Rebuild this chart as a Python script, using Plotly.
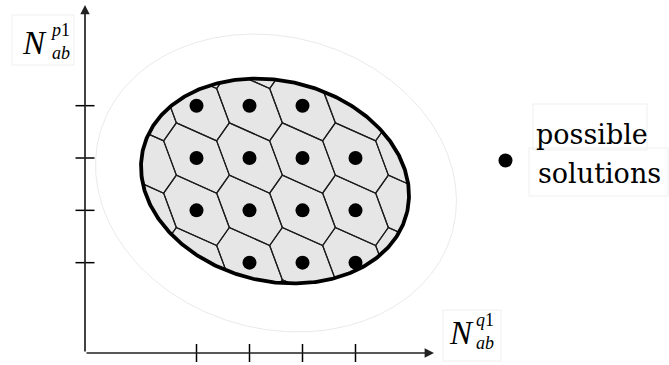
import numpy as np
import plotly.graph_objects as go

# ---- data -------------------------------------------------------------
# integer pairs (N_ab^q1, N_ab^p1) lying inside the feasible region
sol_q1 = [1, 2, 3, 1, 2, 3, 4, 1, 2, 3, 4, 2, 3, 4]
sol_p1 = [4, 4, 4, 3, 3, 3, 3, 2, 2, 2, 2, 1, 1, 1]
x_ticks = [1, 2, 3, 4]
y_ticks = [1, 2, 3, 4]
legend_lines = ["possible", "solutions"]

# ---- canvas / scale ---------------------------------------------------
W, H = 669, 365
X0_PX, SX = 143.5, 53.0     # pixel column of q1 = 0, pixels per unit
Y0_PX, SY = 315.0, 52.33    # pixel row of p1 = 0, pixels per unit


def dx(px):
    return (np.asarray(px, dtype=float) - X0_PX) / SX


def dy(py):
    return (Y0_PX - np.asarray(py, dtype=float)) / SY


def ellipse(cx, cy, a, b, deg, n=480):
    """Rotated ellipse given in screen units, returned in data units."""
    t = np.linspace(0, 2 * np.pi, n)
    f = np.radians(deg)
    px = cx + a * np.cos(t) * np.cos(f) - b * np.sin(t) * np.sin(f)
    py = cy + a * np.cos(t) * np.sin(f) + b * np.sin(t) * np.cos(f)
    return dx(px), dy(py)


outer_x, outer_y = ellipse(276, 183, 183.0, 145.8, 16.0)
inner_x, inner_y = ellipse(275, 181, 135.7, 100.2, 13.5)

# ---- Voronoi cells of the integer lattice under a skewed metric ---------
M = np.array([[1.241, 0.453], [0.453, 1.0]])


def clip_halfplane(poly, a, c):
    out = []
    n = len(poly)
    for k in range(n):
        P, Q = poly[k], poly[(k + 1) % n]
        fp, fq = a @ P - c, a @ Q - c
        if fp <= 0:
            out.append(P)
        if fp * fq < 0:
            t = fp / (fp - fq)
            out.append(P + t * (Q - P))
    return out


ell_pts = np.column_stack([inner_x, inner_y])
ell_center = ell_pts[:-1].mean(axis=0)

cell_x, cell_y = [], []
for i in range(-2, 8):
    for j in range(-2, 8):
        p = np.array([i, j], dtype=float)
        poly = [p + np.array(v) for v in [(-2, -2), (2, -2), (2, 2), (-2, 2)]]
        for di in range(-2, 3):
            for dj in range(-2, 3):
                if di == 0 and dj == 0:
                    continue
                q = p + np.array([di, dj])
                poly = clip_halfplane(poly, 2 * M @ (q - p), q @ M @ q - p @ M @ p)
        for k in range(len(ell_pts) - 1):
            if not poly:
                break
            e0, e1 = ell_pts[k], ell_pts[k + 1]
            d = e1 - e0
            nrm = np.array([d[1], -d[0]])
            c = nrm @ e0
            if nrm @ ell_center > c:
                nrm, c = -nrm, -c
            poly = clip_halfplane(poly, nrm, c)
        if len(poly) >= 3:
            pts = poly + [poly[0]]
            cell_x += [pt[0] for pt in pts] + [None]
            cell_y += [pt[1] for pt in pts] + [None]

# ---- axes geometry -----------------------------------------------------
ox, oy = float(dx(85)), float(dy(353))
x_tip, y_tip = float(dx(434)), float(dy(5))
tick_hx, tick_hy = 9.5 / SX, 9.0 / SY

tx, ty = [], []
for v in x_ticks:
    tx += [v, v, None]
    ty += [oy - tick_hy, oy + tick_hy, None]
for v in y_ticks:
    tx += [ox - tick_hx, ox + tick_hx, None]
    ty += [v, v, None]

fig = go.Figure()
fig.add_trace(go.Scatter(x=outer_x, y=outer_y, mode="lines",
                         line=dict(color="#e6e6e6", width=0.9), hoverinfo="skip"))
fig.add_trace(go.Scatter(x=inner_x, y=inner_y, mode="lines", fill="toself",
                         fillcolor="#e6e6e6", line=dict(width=0), hoverinfo="skip"))
fig.add_trace(go.Scatter(x=cell_x, y=cell_y, mode="lines",
                         line=dict(color="#1c1c1c", width=1.2), hoverinfo="skip"))
fig.add_trace(go.Scatter(x=inner_x, y=inner_y, mode="lines",
                         line=dict(color="black", width=3.8), hoverinfo="skip"))
fig.add_trace(go.Scatter(x=sol_q1, y=sol_p1, mode="markers", name="possible solutions",
                         marker=dict(color="black", size=14)))
fig.add_trace(go.Scatter(x=tx, y=ty, mode="lines",
                         line=dict(color="black", width=1.5), hoverinfo="skip"))
# legend glyph
fig.add_trace(go.Scatter(x=[float(dx(505.5))], y=[float(dy(160.5))], mode="markers",
                         marker=dict(color="black", size=14), hoverinfo="skip"))

annotations = []
# axis arrows
for (ax_, ay_, x_, y_) in [(ox, oy, ox, y_tip), (ox, oy, x_tip, oy)]:
    annotations.append(dict(x=x_, y=y_, ax=ax_, ay=ay_, xref="x", yref="y",
                            axref="x", ayref="y", text="", showarrow=True,
                            arrowhead=2, arrowsize=1.1, arrowwidth=1.7,
                            arrowcolor="#222222", standoff=0))


def label(px, py, text, size, family="Liberation Serif", xanchor="center"):
    annotations.append(dict(x=px / W, y=1 - py / H, xref="paper", yref="paper",
                            text=text, showarrow=False, xanchor=xanchor,
                            yanchor="middle", borderpad=0, align="left",
                            font=dict(family=family, size=size, color="black")))


def math_label(nx, ny, sup):
    # N with a stacked superscript / subscript block to its right
    label(nx + 11.5, ny, "<i>N</i>", 33, xanchor="right")
    label(nx + 12, ny - 1, f"<i>{sup}</i>1<br><i>ab</i>", 18, xanchor="left")


math_label(36.5, 43, "p")
math_label(463, 332.5, "q")

label(535, 134.7, legend_lines[0], 27, family="DejaVu Serif", xanchor="left")
label(537, 173.7, legend_lines[1], 27, family="DejaVu Serif", xanchor="left")

# faint frames around the text blocks
shapes = []
for (x0, y0, x1, y1) in [(12, 15, 74, 65), (443, 310, 501, 361),
                         (533, 104, 647, 150), (529, 148, 668, 196)]:
    shapes.append(dict(type="rect", xref="paper", yref="paper",
                       x0=x0 / W, x1=x1 / W, y0=1 - y1 / H, y1=1 - y0 / H,
                       line=dict(color="#efefef", width=1)))

fig.update_layout(
    width=W, height=H, margin=dict(l=0, r=0, t=0, b=0),
    paper_bgcolor="white", plot_bgcolor="white", showlegend=False,
    xaxis=dict(range=[float(dx(0)), float(dx(W))], visible=False, fixedrange=True),
    yaxis=dict(range=[float(dy(H)), float(dy(0))], visible=False, fixedrange=True),
    annotations=annotations, shapes=shapes,
)

fig.write_html("out.html", config={"displayModeBar": False})
